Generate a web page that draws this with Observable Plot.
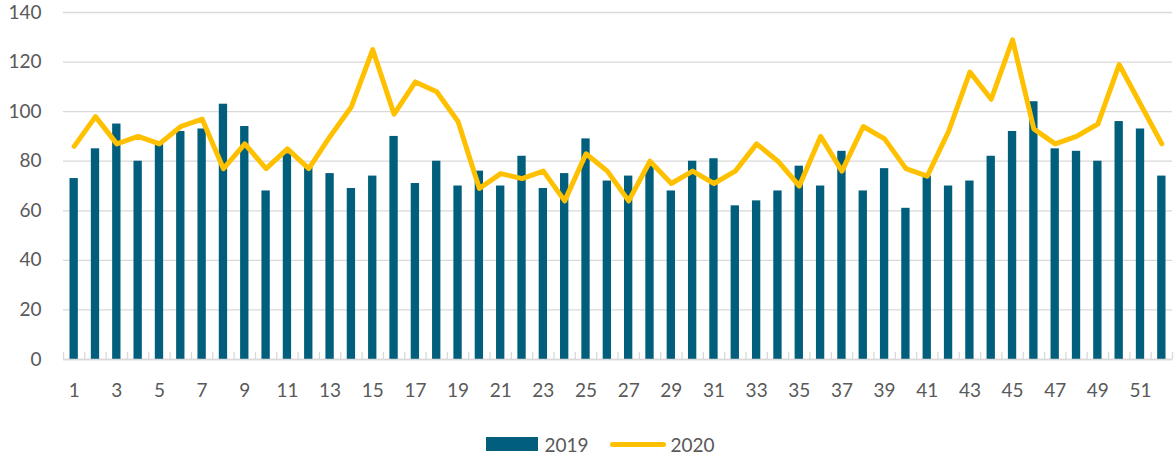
<!DOCTYPE html>
<html>
<head>
<meta charset="utf-8">
<script src="https://cdn.jsdelivr.net/npm/d3@7"></script>
<script src="https://cdn.jsdelivr.net/npm/@observablehq/plot@0.6"></script>
<style>
  html, body { margin: 0; padding: 0; background: #fff; }
  #wrap { position: relative; width: 1175px; height: 456px; font-family: Lato, "Open Sans", sans-serif; }
  #legend { position: absolute; left: 0; top: 434px; width: 1175px; height: 20px; display: flex; justify-content: center; align-items: center; padding-left: 26px; box-sizing: border-box; font-size: 19px; color: #595959; }
  .sw-bar { width: 52px; height: 14px; margin-right: 6px; }
  .sw-line { width: 56px; height: 5px; border-radius: 3px; margin-left: 21px; margin-right: 5px; }
</style>
</head>
<body>
<div id="wrap">
  <div id="chart"></div>
  <div id="legend"></div>
</div>
<script>
const weeks = [1,2,3,4,5,6,7,8,9,10,11,12,13,14,15,16,17,18,19,20,21,22,23,24,25,26,
               27,28,29,30,31,32,33,34,35,36,37,38,39,40,41,42,43,44,45,46,47,48,49,50,51,52];
const values2019 = [73,85,95,80,87,92,93,103,94,68, 83,78,75,69,74,90,71,80,70,76,
                    70,82,69,75,89,72,74,78,68,80, 81,62,64,68,78,70,84,68,77,61,
                    74,70,72,82,92,104,85,84,80,96, 93,74];
const values2020 = [86,98,87,90,87,94,97,77,87,77, 85,77,90,102,125,99,112,108,96,69,
                    75,73,76,64,83,76,64,80,71,76, 71,76,87,80,70,90,76,94,89,77,
                    74,92,116,105,129,93,87,90,95,119, 103,87];
const yTicks = [0,20,40,60,80,100,120,140];
const seriesNames = ["2019", "2020"];
const colors = ["#015e7c", "#ffc000"];

const data19 = weeks.map((w, i) => ({week: w, value: values2019[i]}));
const data20 = weeks.map((w, i) => ({week: w, value: values2020[i]}));

const W = 1175, H = 410, ML = 63, MR = 3;
const step = (W - ML - MR) / weeks.length;

const chart = Plot.plot({
  width: W,
  height: H,
  marginLeft: ML,
  marginRight: MR,
  marginTop: 12,
  marginBottom: 51,
  style: {fontFamily: "Lato, 'Open Sans', sans-serif", fontSize: "19px", color: "#595959", background: "#fff"},
  x: {domain: weeks, padding: 0, round: false, label: null},
  y: {domain: [0, 140], label: null},
  marks: [
    Plot.gridY(yTicks, {stroke: "#d9d9d9", strokeOpacity: 1, strokeWidth: 1.3}),
    Plot.axisY(yTicks, {tickSize: 0, tickPadding: 22, fontSize: 19, fill: "#595959", label: null}),
    Plot.axisX(weeks.filter(w => w % 2 === 1), {tickSize: 0, tickPadding: 24, fontSize: 19, fill: "#595959", label: null}),
    Plot.barY(data19, {x: "week", y: "value", fill: colors[0], insetLeft: 6.5, insetRight: 6.5}),
    Plot.ruleY([0], {stroke: "#d9d9d9", strokeWidth: 1.5}),
    Plot.ruleX(weeks, {x: d => d, y1: 0, y2: 2.8, dx: -step / 2, stroke: "#d9d9d9", strokeWidth: 1.3}),
    Plot.ruleX([weeks[weeks.length - 1]], {x: d => d, y1: 0, y2: 2.8, dx: step / 2, stroke: "#d9d9d9", strokeWidth: 1.3}),
    Plot.lineY(data20, {x: "week", y: "value", stroke: colors[1], strokeWidth: 5, strokeLinejoin: "round", strokeLinecap: "round"})
  ]
});
document.getElementById("chart").appendChild(chart);

const legend = document.getElementById("legend");
legend.innerHTML =
  `<div class="sw-bar" style="background:${colors[0]}"></div><span>${seriesNames[0]}</span>` +
  `<div class="sw-line" style="background:${colors[1]}"></div><span>${seriesNames[1]}</span>`;
</script>
</body>
</html>
